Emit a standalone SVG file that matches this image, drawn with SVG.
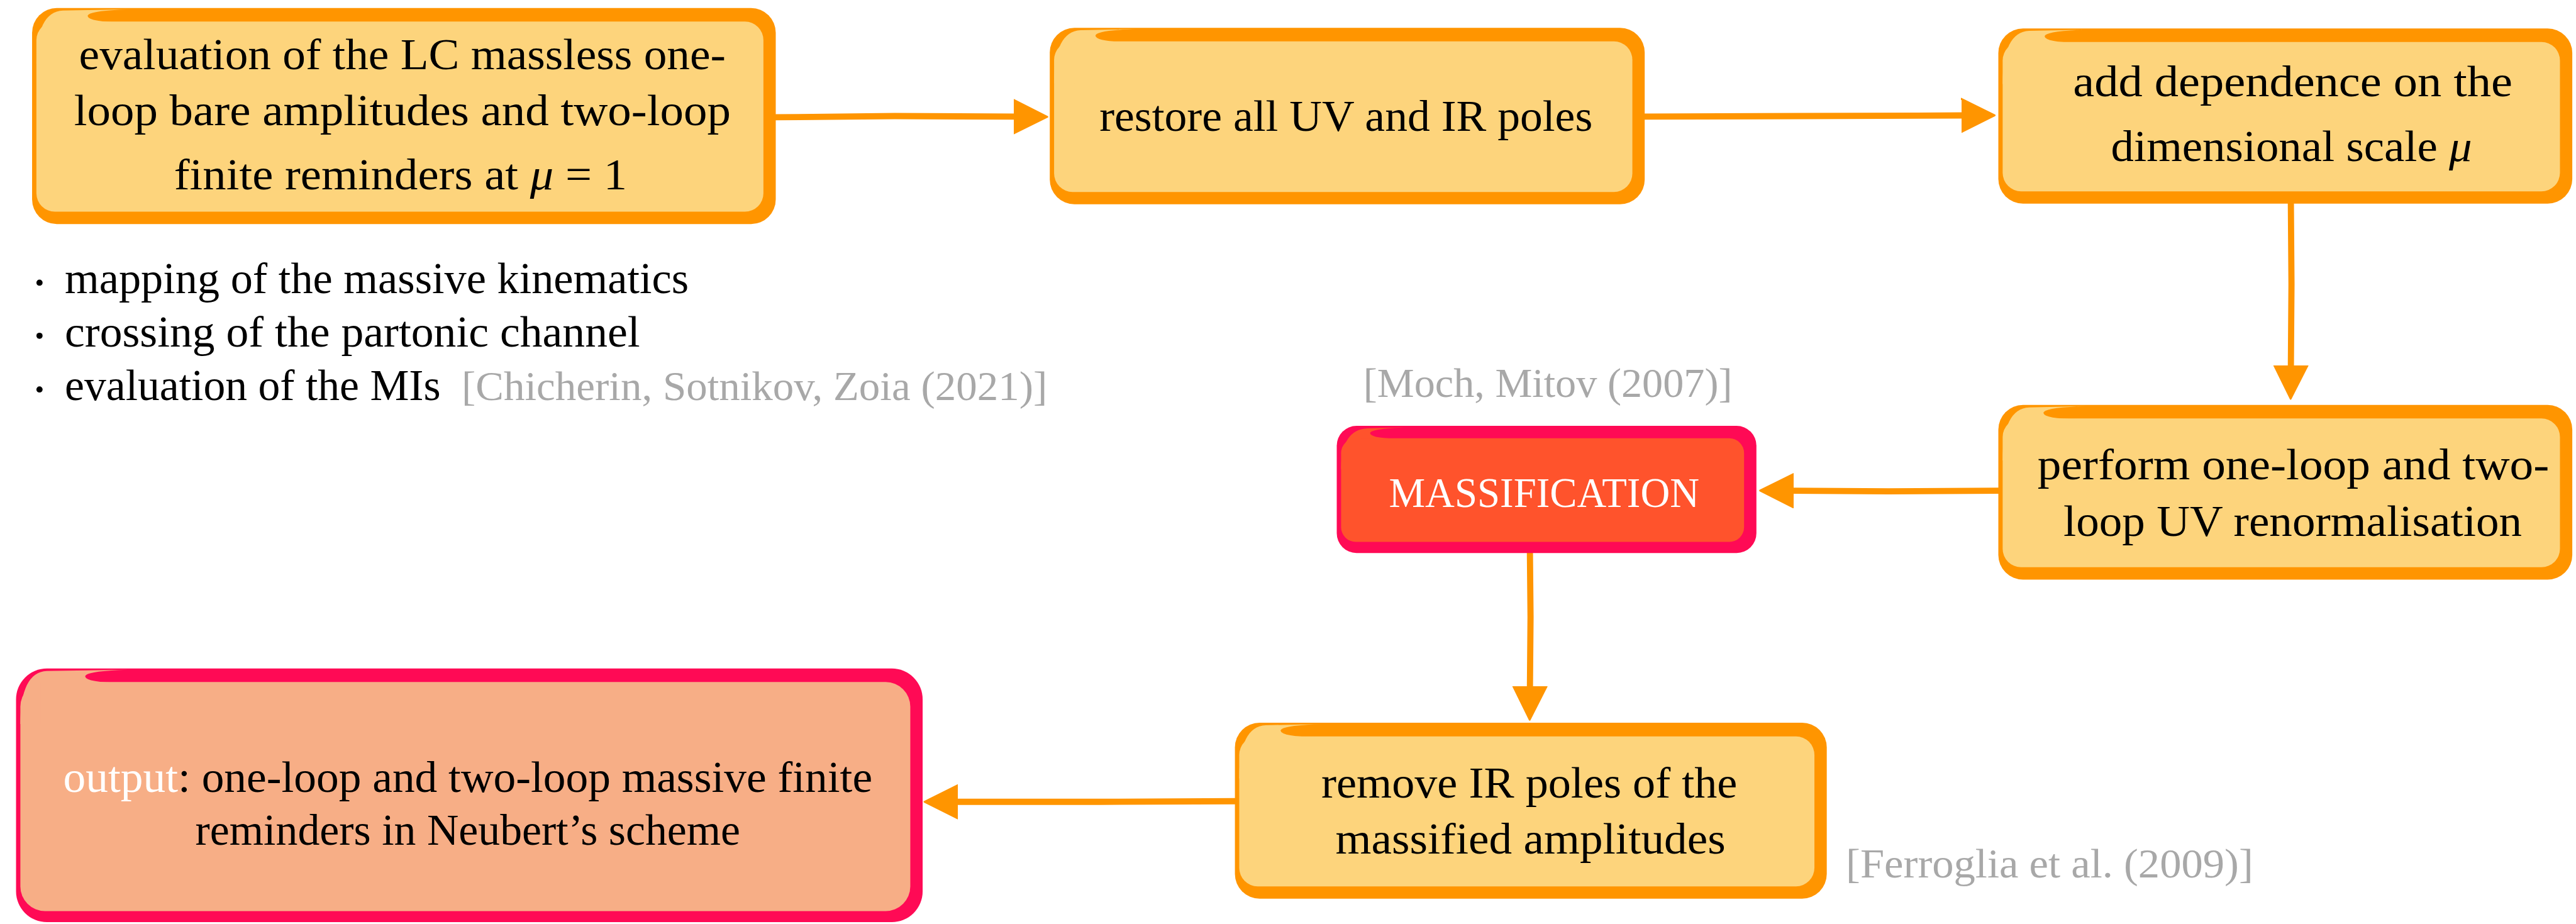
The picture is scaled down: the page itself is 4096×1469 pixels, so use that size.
<svg xmlns="http://www.w3.org/2000/svg" width="4096" height="1469" viewBox="0 0 4096 1469">
  <defs>
    <style>
      .o-edge { fill: #FF9500; }
      .o-fill { fill: #FDD47C; }
      .p-edge { fill: #FF0A55; }
      .r-fill { fill: #FF532C; }
      .s-fill { fill: #F7AE86; }
      .t { font-family: "Liberation Serif", "Times New Roman", serif; font-size: 72px; fill: #000; text-anchor: middle; }
      .tw { font-family: "Liberation Serif", "Times New Roman", serif; font-size: 68px; fill: #fff; text-anchor: middle; }
      .bl { font-family: "Liberation Serif", "Times New Roman", serif; font-size: 72px; fill: #000; }
      .cite { font-family: "Liberation Serif", "Times New Roman", serif; font-size: 66px; fill: #A8A8A8; }
      .wire { fill: none; stroke: #FF9500; stroke-width: 10; stroke-linecap: round; stroke-linejoin: round; marker-end: url(#head); }
    </style>
    <marker id="head" markerUnits="userSpaceOnUse" viewBox="0 -30 60 60" markerWidth="60" markerHeight="60" refX="4" refY="0" orient="auto">
      <path d="M0,-27 L54,0 L0,27 Z" fill="#FF9500" stroke="#FF9500" stroke-width="3" stroke-linejoin="round"/>
    </marker>
  </defs>

  <rect width="4096" height="1469" fill="#fff"/>

  <g transform="scale(0.98131)">
    <!-- connectors -->
    <g id="connectors">
      <path class="wire" d="M1257,190 L1450,188 L1647,189"/>
      <path class="wire" d="M2665,189 L2920,188 L3182,187"/>
      <path class="wire" d="M3712,330 L3713,460 L3712,596"/>
      <path class="wire" d="M3238,795 L3060,796 L2902,795"/>
      <path class="wire" d="M2479,896 L2480,1000 L2479,1116"/>
      <path class="wire" d="M2001,1298 L1780,1299 L1548,1299"/>
    </g>

    <!-- evaluation of the massless amplitudes -->
    <g id="n-eval">
      <rect class="o-edge" x="52" y="13" width="1205" height="350" rx="40"/>
      <rect class="o-fill" x="59" y="35" width="1178" height="308" rx="30"/>
      <path class="o-fill" d="M59,103 Q59,19 102,17 L212,15 Q142,17 142,26 Q144,36 202,36 L92,36 L92,103 Z"/>
      <text class="t" x="652" y="112" textLength="1048" lengthAdjust="spacingAndGlyphs">evaluation of the LC massless one-</text>
      <text class="t" x="652" y="203" textLength="1064" lengthAdjust="spacingAndGlyphs">loop bare amplitudes and two-loop</text>
      <text class="t" x="649" y="307" textLength="734" lengthAdjust="spacingAndGlyphs">finite reminders at <tspan font-style="italic">μ</tspan> = 1</text>
    </g>

    <!-- restore poles -->
    <g id="n-restore">
      <rect class="o-edge" x="1701" y="45" width="964" height="286" rx="40"/>
      <rect class="o-fill" x="1708" y="67" width="937" height="244" rx="30"/>
      <path class="o-fill" d="M1708,135 Q1708,51 1751,49 L1845,47 Q1775,49 1775,58 Q1777,68 1835,68 L1741,68 L1741,135 Z"/>
      <text class="t" x="2181" y="212" textLength="799" lengthAdjust="spacingAndGlyphs">restore all UV and IR poles</text>
    </g>

    <!-- scale dependence -->
    <g id="n-scale">
      <rect class="o-edge" x="3238" y="46" width="930" height="284" rx="40"/>
      <rect class="o-fill" x="3245" y="68" width="903" height="242" rx="30"/>
      <path class="o-fill" d="M3245,136 Q3245,52 3288,50 L3383,48 Q3313,50 3313,59 Q3315,69 3373,69 L3278,69 L3278,136 Z"/>
      <text class="t" x="3715" y="156" textLength="712" lengthAdjust="spacingAndGlyphs">add dependence on the</text>
      <text class="t" x="3713" y="261" textLength="585" lengthAdjust="spacingAndGlyphs">dimensional scale <tspan font-style="italic">μ</tspan></text>
    </g>

    <!-- UV renormalisation -->
    <g id="n-renorm">
      <rect class="o-edge" x="3238" y="656" width="930" height="283" rx="40"/>
      <rect class="o-fill" x="3245" y="678" width="903" height="241" rx="30"/>
      <path class="o-fill" d="M3245,746 Q3245,662 3288,660 L3381,658 Q3311,660 3311,669 Q3313,679 3371,679 L3278,679 L3278,746 Z"/>
      <text class="t" x="3716" y="777" textLength="829" lengthAdjust="spacingAndGlyphs">perform one-loop and two-</text>
      <text class="t" x="3715" y="868" textLength="743" lengthAdjust="spacingAndGlyphs">loop UV renormalisation</text>
    </g>

    <!-- massification -->
    <g id="n-mass">
      <rect class="p-edge" x="2166" y="690" width="680" height="206" rx="32"/>
      <rect class="r-fill" x="2173" y="710" width="653" height="168" rx="24"/>
      <path class="r-fill" d="M2173,760 Q2173,696 2216,694 L2290,692 Q2220,694 2220,702 Q2222,711 2280,711 L2206,711 L2206,760 Z"/>
      <text class="tw" x="2502" y="821" textLength="503" lengthAdjust="spacingAndGlyphs">MASSIFICATION</text>
    </g>

    <!-- IR pole subtraction -->
    <g id="n-remove">
      <rect class="o-edge" x="2001" y="1171" width="959" height="285" rx="40"/>
      <rect class="o-fill" x="2008" y="1193" width="932" height="243" rx="30"/>
      <path class="o-fill" d="M2008,1261 Q2008,1177 2051,1175 L2145,1173 Q2075,1175 2075,1184 Q2077,1194 2135,1194 L2041,1194 L2041,1261 Z"/>
      <text class="t" x="2478" y="1292" textLength="674" lengthAdjust="spacingAndGlyphs">remove IR poles of the</text>
      <text class="t" x="2480" y="1383" textLength="632" lengthAdjust="spacingAndGlyphs">massified amplitudes</text>
    </g>

    <!-- output -->
    <g id="n-output">
      <rect class="p-edge" x="26" y="1083" width="1469" height="411" rx="50"/>
      <rect class="s-fill" x="33" y="1105" width="1442" height="371" rx="40"/>
      <path class="s-fill" d="M33,1173 Q33,1089 76,1087 L208,1085 Q138,1087 138,1096 Q140,1106 198,1106 L66,1106 L66,1173 Z"/>
      <text class="t" x="758" y="1283" textLength="1311" lengthAdjust="spacingAndGlyphs"><tspan fill="#fff">output</tspan>: one-loop and two-loop massive finite</text>
      <text class="t" x="758" y="1369" textLength="883" lengthAdjust="spacingAndGlyphs">reminders in Neubert’s scheme</text>
    </g>

    <!-- preliminary steps list -->
    <g id="steps">
      <circle cx="64" cy="458" r="5"/>
      <circle cx="64" cy="544" r="5"/>
      <circle cx="64" cy="631" r="5"/>
      <text class="bl" x="105" y="475" textLength="1011" lengthAdjust="spacingAndGlyphs">mapping of the massive kinematics</text>
      <text class="bl" x="105" y="561" textLength="932" lengthAdjust="spacingAndGlyphs">crossing of the partonic channel</text>
      <text class="bl" x="105" y="648" textLength="609" lengthAdjust="spacingAndGlyphs">evaluation of the MIs</text>
      <text class="cite" x="748" y="648" textLength="949" lengthAdjust="spacingAndGlyphs">[Chicherin, Sotnikov, Zoia (2021)]</text>
    </g>

    <!-- references -->
    <g id="refs">
      <text class="cite" x="2209" y="643" textLength="598" lengthAdjust="spacingAndGlyphs">[Moch, Mitov (2007)]</text>
      <text class="cite" x="2991" y="1422" textLength="660" lengthAdjust="spacingAndGlyphs">[Ferroglia et al. (2009)]</text>
    </g>
  </g>
</svg>
